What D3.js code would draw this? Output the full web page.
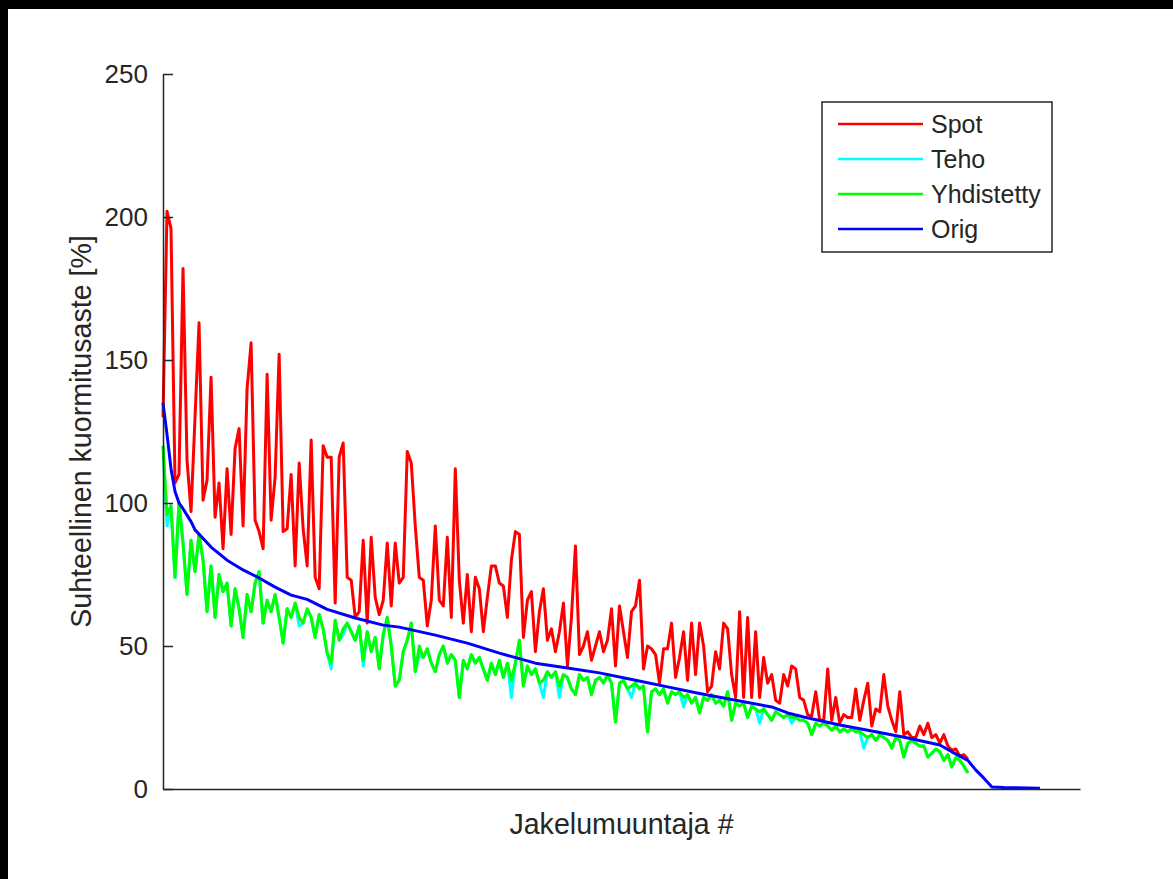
<!DOCTYPE html>
<html>
<head>
<meta charset="utf-8">
<script src="https://cdn.jsdelivr.net/npm/d3@7"></script>
<style>
  body { margin: 0; background: #000; }
  svg { display: block; }
  text { font-family: "Liberation Sans", Arial, sans-serif; fill: #262626; }
</style>
</head>
<body>
<div class="canvas"></div>
<script>
// data (index = transformer #, value = %)
const seriesNames = ['Spot', 'Teho', 'Yhdistetty', 'Orig'];
const seriesColors = ['#ff0000', '#00ffff', '#00ff00', '#0000ff'];
const yTicks = [0, 50, 100, 150, 200, 250];

const spot = [
  130, 202, 196, 107, 110, 182, 115, 97, 130, 163,
  101, 108, 144, 95, 107, 84, 112, 89, 119, 126,
  92, 140, 156, 94, 90, 84, 145, 94, 109, 152,
  90, 91, 110, 78, 114, 91, 78, 122, 74, 70,
  120, 116, 116, 65, 116, 121, 74, 73, 60, 62,
  87, 58, 88, 67, 61, 66, 86, 64, 86, 72,
  74, 118, 114, 92, 74, 73, 57, 66, 92, 66,
  64, 88, 60, 112, 73, 58, 75, 55, 74, 70,
  55, 67, 78, 78, 72, 71, 60, 80, 90, 89,
  53, 66, 69, 48, 62, 70, 52, 56, 48, 55,
  65, 43, 60, 85, 47, 50, 55, 45, 50, 55,
  48, 52, 63, 43, 64, 55, 46, 62, 64, 73,
  42, 50, 49, 47, 37, 49, 49, 58, 39, 46,
  55, 38, 58, 40, 58, 50, 34, 36, 48, 42,
  58, 56, 40, 32, 62, 32, 60, 32, 55, 32,
  46, 37, 40, 31, 30, 40, 36, 43, 42, 32,
  31, 26, 25.5, 34, 24, 24, 42, 24, 32, 23,
  26, 25, 25, 35, 24, 31, 37, 22, 28, 27,
  40, 29, 24, 20, 34, 19, 20, 18, 18, 22,
  19, 23, 18, 19, 16, 19, 15, 13.5, 14, 11.5,
  12, 10.5
];

const teho = [
  120, 92, 99, 74, 100, 86, 68, 87, 76, 89,
  80, 62, 78, 60, 75, 69, 72, 57, 70, 63,
  53, 68, 62, 72, 76, 58, 66, 62, 68, 60,
  51, 63, 60, 65, 57, 58, 63, 60, 53, 61,
  56, 47.5, 42, 59, 52, 54, 58, 55, 52, 57,
  43, 55, 48, 53, 42, 54, 60, 50, 36, 38,
  48, 52, 58, 41, 47, 46, 49, 44, 41, 47,
  50, 44, 47, 45, 32, 45, 42, 47, 44, 46,
  42, 38, 44, 40, 45, 39, 44, 32, 44, 52,
  36, 43, 40, 42, 37, 32, 41, 39, 41, 32,
  40, 39, 35, 33, 40, 38, 39, 33, 38, 39,
  37, 40, 37, 23.4, 37, 38, 35, 32, 37, 35,
  36, 20, 34, 35, 33, 35, 30, 34, 33, 34,
  28.7, 33, 30, 32, 26.6, 32, 31, 33, 30, 31,
  29, 34, 24, 30, 29, 30, 25, 29, 28, 23,
  28, 26, 24, 27, 26, 25, 26, 23, 25, 24,
  24, 23, 19, 23, 22, 23, 22, 20.6, 22, 20,
  21, 20, 21, 20, 20, 14.3, 18, 19, 17, 19,
  18, 17, 14.3, 18, 17, 11.2, 16, 17, 16, 15,
  15, 11.2, 12.5, 14, 13, 10, 12, 7.7, 11, 10,
  8, 5.6
];

const yhdistetty = [
  120, 96, 99, 74, 100, 86, 68, 87, 76, 89,
  80, 62, 78, 60, 75, 69, 72, 57, 70, 63,
  53, 68, 62, 72, 76, 58, 66, 62, 68, 60,
  51, 63, 60, 65, 60, 58, 63, 60, 53, 61,
  56, 47.5, 44, 59, 52, 56, 58, 55, 52, 57,
  45, 55, 48, 53, 42, 54, 60, 50, 36, 38,
  48, 52, 58, 41, 50, 46, 49, 44, 41, 47,
  50, 44, 47, 45, 32, 45, 42, 47, 44, 46,
  42, 38, 44, 40, 45, 39, 44, 38, 44, 52,
  36, 43, 40, 42, 37, 38, 41, 39, 41, 36,
  40, 39, 35, 33, 40, 38, 39, 33, 38, 39,
  37, 40, 37, 23.4, 37, 38, 35, 36, 37, 35,
  36, 20, 34, 35, 33, 35, 30, 34, 33, 34,
  32, 33, 30, 32, 26.6, 32, 31, 33, 30, 31,
  29, 34, 24, 30, 29, 30, 25, 29, 28, 27,
  28, 26, 24, 27, 26, 25, 26, 25, 25, 24,
  24, 23, 19, 23, 22, 23, 22, 20.6, 22, 20,
  21, 20, 21, 20, 20, 19, 18, 19, 17, 19,
  18, 17, 14.3, 18, 17, 11.2, 16, 17, 16, 15,
  15, 11.2, 12.5, 14, 13, 10, 12, 7.7, 11, 10,
  8, 5.6
];

const origIdx = [0, 1, 2, 3, 4, 5, 7, 8, 12, 16, 20, 24, 28, 32, 36, 41, 48, 55, 59, 68,
  76, 84, 93, 101, 109, 118, 126, 134, 143, 152, 156, 160, 169, 178, 186, 194, 197, 201,
  203, 205, 207, 210, 219];
const origVal = [135, 124, 112, 104, 100, 98, 93.5, 90.6, 84.6, 80, 76.6, 73.8, 70.6, 67.8, 66.3, 62.8, 59.8, 57.3, 56.6, 53.8,
  51, 47.5, 44, 42.3, 40.6, 38, 35.7, 33.4, 31, 28.7, 26.6, 25.2, 22.4, 20, 17.8, 15.4, 13, 10,
  6.6, 3.8, 0.7, 0.5, 0.3];

const xMax = 229;

const dims = {height: 715, width: 917};
const margin = {left: 163, right: 93, top: 74, bottom: 90};

const svg = d3.select('.canvas')
  .append('svg')
  .attr('width', 1173)
  .attr('height', 879);

// black strip top/left, white figure
svg.append('rect').attr('width', 1173).attr('height', 879).attr('fill', '#000');
svg.append('rect').attr('x', 8).attr('y', 9).attr('width', 1165).attr('height', 870).attr('fill', '#fff');

const graph = svg.append('g')
  .attr('transform', `translate(${margin.left}, ${margin.top})`);

const x = d3.scaleLinear().domain([0, xMax]).range([0, dims.width]);
const y = d3.scaleLinear().domain([0, 250]).range([dims.height, 0]);

const line = d3.line()
  .x(d => x(d[0]))
  .y(d => y(d[1]));

const series = [
  spot.map((v, i) => [i, v]),
  teho.map((v, i) => [i, v]),
  yhdistetty.map((v, i) => [i, v]),
  origIdx.map((v, i) => [v, origVal[i]])
];

graph.selectAll('.series')
  .data(series)
  .enter()
  .append('path')
    .classed('series', true)
    .attr('fill', 'none')
    .attr('stroke', (d, i) => seriesColors[i])
    .attr('stroke-width', 3)
    .attr('stroke-linejoin', 'round')
    .attr('d', line);

// axes
const yAxis = d3.axisLeft(y)
  .tickValues(yTicks)
  .tickSizeInner(-10)
  .tickSizeOuter(0)
  .tickPadding(15);

const xAxis = d3.axisBottom(x)
  .tickValues([])
  .tickSizeOuter(0);

const gy = graph.append('g').call(yAxis);
const gx = graph.append('g').attr('transform', `translate(0, ${dims.height})`).call(xAxis);

[gx, gy].forEach(g => {
  g.selectAll('path, line').attr('stroke', '#262626').attr('stroke-width', 1.5);
});
gy.selectAll('text')
  .attr('font-size', 26)
  .attr('font-family', '"Liberation Sans", Arial, sans-serif')
  .attr('fill', '#262626');

// axis labels
graph.append('text')
  .attr('text-anchor', 'middle')
  .attr('font-size', 28.6)
  .attr('x', dims.width / 2)
  .attr('y', dims.height + 45)
  .text('Jakelumuuntaja #');

graph.append('text')
  .attr('text-anchor', 'middle')
  .attr('font-size', 28.6)
  .attr('transform', `translate(-72, ${dims.height / 2}) rotate(-90)`)
  .text('Suhteellinen kuormitusaste [%]');

// legend
const legend = svg.append('g').attr('transform', 'translate(822, 102)');

legend.append('rect')
  .attr('width', 230)
  .attr('height', 150)
  .attr('fill', '#fff')
  .attr('stroke', '#262626')
  .attr('stroke-width', 1.5);

const items = legend.selectAll('.item')
  .data(seriesNames)
  .enter()
  .append('g')
    .classed('item', true)
    .attr('transform', (d, i) => `translate(0, ${22 + i * 35})`);

items.append('line')
  .attr('x1', 16).attr('x2', 101)
  .attr('stroke', (d, i) => seriesColors[i])
  .attr('stroke-width', 2.5);

items.append('text')
  .attr('x', 109)
  .attr('dy', '0.35em')
  .attr('font-size', 25)
  .text(d => d);
</script>
</body>
</html>
